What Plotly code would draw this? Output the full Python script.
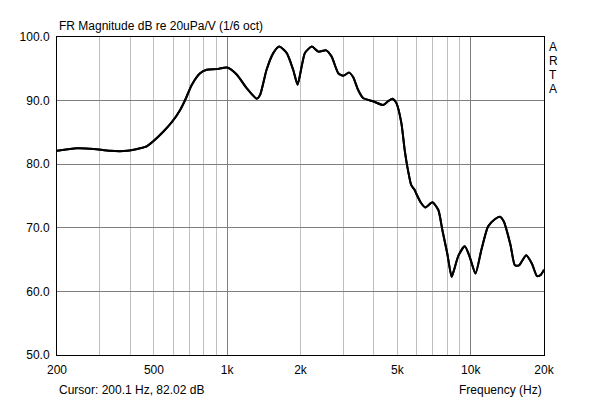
import plotly.graph_objects as go

freq_hz = [200, 241, 283, 330, 388, 439, 467, 497, 546, 592, 640, 672, 716, 774, 824, 906,
           1000, 1094, 1200, 1322, 1365, 1451, 1548, 1636, 1754, 1866, 1945, 2023, 2086, 2226,
           2369, 2546, 2682, 2859, 2994, 3167, 3289, 3446, 3614, 3972, 4368, 4578, 4771, 4953,
           5190, 5354, 5523, 5701, 5880, 5972, 6256, 6510, 6966, 7364, 7648, 8010, 8347, 8500,
           8922, 9458, 9914, 10460, 11060, 11780, 12560, 13170, 13680, 14570, 15190, 15800,
           16900, 17830, 18720, 19400, 20000]
level_db = [82.1, 82.5, 82.4, 82.1, 82.1, 82.5, 82.8, 83.6, 85.1, 86.6, 88.5, 90.1, 92.5, 94.3,
            94.85, 94.95, 95.2, 94.1, 92.0, 90.3, 90.9, 94.85, 97.5, 98.5, 97.5, 94.85, 92.5,
            95.4, 97.5, 98.5, 97.7, 97.9, 96.95, 94.3, 93.9, 94.4, 93.7, 91.7, 90.4, 89.9,
            89.3, 89.9, 90.3, 89.6, 86.5, 82.3, 79.1, 76.7, 76.0, 75.4, 73.9, 73.2, 74.0,
            72.8, 69.65, 66.0, 62.3, 63.1, 65.7, 67.1, 65.4, 62.8, 66.5, 70.2, 71.35, 71.75,
            71.0, 67.3, 64.1, 64.1, 65.7, 64.4, 62.4, 62.6, 63.4]

label_ticks = [200, 500, 1000, 2000, 5000, 10000, 20000]
label_text = ["200", "500", "1k", "2k", "5k", "10k", "20k"]
light_grid = [300, 400, 500, 600, 700, 800, 900, 2000, 3000, 4000, 5000, 6000, 7000, 8000, 9000]
dark_grid = [1000, 10000]
y_ticks = [50, 60, 70, 80, 90, 100]
side_letters = ["A", "R", "T", "A"]

FONT = "Liberation Sans, Arial, sans-serif"

fig = go.Figure()
fig.add_trace(go.Scatter(x=freq_hz, y=level_db, mode="lines", xaxis="x2", yaxis="y",
                         line=dict(color="black", width=2, shape="spline", smoothing=0.6),
                         hoverinfo="skip", showlegend=False))
fig.add_trace(go.Scatter(x=freq_hz, y=level_db, mode="lines", xaxis="x", yaxis="y",
                         line=dict(color="black", width=2, shape="spline", smoothing=0.6),
                         showlegend=False))

annotations = [
    dict(text="FR Magnitude dB re 20uPa/V (1/6 oct)", xref="paper", yref="paper",
         x=0, y=1, xanchor="left", yanchor="bottom", yshift=2, showarrow=False,
         font=dict(size=12)),
    dict(text="Cursor: 200.1 Hz, 82.02 dB", xref="paper", yref="paper",
         x=0, y=0, xanchor="left", yanchor="top", yshift=-26, showarrow=False,
         font=dict(size=12)),
    dict(text="Frequency (Hz)", xref="paper", yref="paper",
         x=1, y=0, xanchor="right", yanchor="top", yshift=-26, showarrow=False,
         font=dict(size=12)),
]
for i, ch in enumerate(side_letters):
    annotations.append(dict(text=ch, xref="paper", yref="paper", x=1, y=1,
                            xanchor="center", yanchor="top", xshift=9, yshift=-1 - 14 * i,
                            showarrow=False, font=dict(size=12)))

fig.update_layout(
    width=600, height=400,
    margin=dict(l=57, r=56, t=37, b=45),
    paper_bgcolor="white", plot_bgcolor="white",
    font=dict(family=FONT, size=12, color="black"),
    showlegend=False,
    xaxis=dict(type="log", range=[2.30103, 4.30103],
               tickvals=label_ticks, ticktext=label_text, showgrid=False,
               ticks="", ticklabelstandoff=4,
               showline=True, mirror=True, linecolor="black", linewidth=1,
               minor=dict(tickvals=light_grid, showgrid=True, gridcolor="#c0c0c0",
                          gridwidth=1, ticks=""),
               zeroline=False),
    xaxis2=dict(type="log", range=[2.30103, 4.30103], overlaying="x", anchor="y",
                tickvals=dark_grid, showticklabels=False, showgrid=True,
                gridcolor="#808080", gridwidth=1, ticks="", showline=False, zeroline=False),
    yaxis=dict(range=[50, 100], tickvals=y_ticks, tickformat=".1f",
               showgrid=True, gridcolor="#808080", gridwidth=1, ticks="",
               ticklabelstandoff=4,
               showline=True, mirror=True, linecolor="black", linewidth=1, zeroline=False),
    annotations=annotations,
)

fig.write_html("out.html", config={"displayModeBar": False},
               post_script="document.body.style.margin='0';document.body.style.padding='0';")
